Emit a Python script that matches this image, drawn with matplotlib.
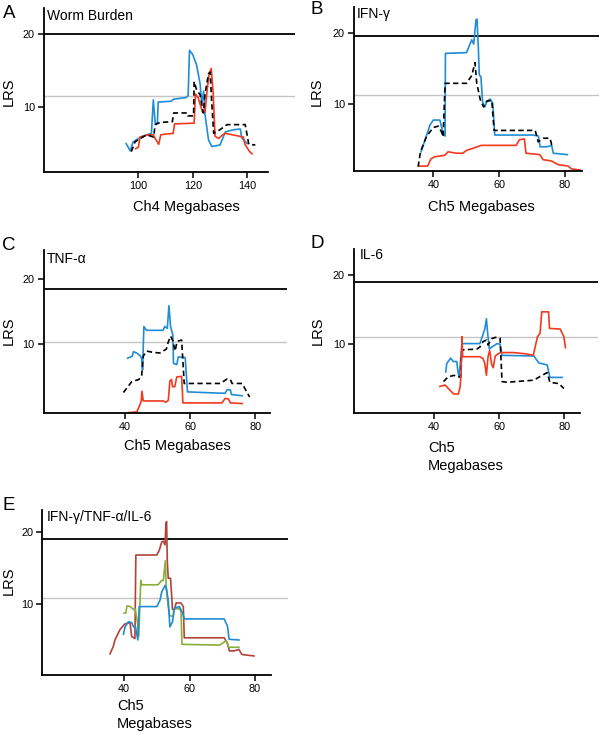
import matplotlib
matplotlib.use("Agg")
import matplotlib.pyplot as plt

plt.rcParams['font.family'] = ['Liberation Sans', 'DejaVu Sans']

# ---------------- data ----------------
# Panel A: Worm Burden, Ch4
a_blue_x = [95.5, 97, 98, 100, 103, 104.8, 105.5, 106.2, 107, 107.3, 112, 113, 117.5, 118.3, 118.8, 120, 121.4, 122.7, 123.3, 124, 124.5, 125.8, 127, 130, 132, 135, 137.5, 138, 140]
a_blue_y = [5.0, 4.0, 5.2, 5.7, 6.2, 6.4, 11.0, 7.8, 7.8, 10.7, 10.8, 11.1, 11.3, 11.6, 17.8, 17.2, 15.8, 13.2, 10.5, 12.2, 9.0, 5.5, 4.6, 4.8, 6.6, 6.9, 7.0, 5.8, 5.0]
a_black_x = [97.4, 98.8, 103, 105.6, 106.2, 108, 112.5, 113, 118, 118.2, 120.3, 120.5, 121.4, 122.7, 123.9, 124.5, 125.8, 126.4, 127.0, 127.7, 130, 132.6, 139.3, 140.6, 143]
a_black_y = [3.9, 5.25, 6.2, 5.9, 7.6, 7.9, 8.0, 9.2, 9.2, 8.8, 8.8, 13.5, 12.4, 11.7, 9.2, 11.8, 14.6, 14.8, 10.5, 6.4, 6.9, 7.6, 7.6, 4.9, 4.8]
a_red_x = [99, 100, 100.6, 103.5, 105.5, 106.5, 107.5, 108.2, 110, 112.8, 113.3, 120.5, 121, 122, 123.5, 124.5, 125.2, 126, 126.8, 127.5, 128.2, 129.5, 131, 132, 138.6, 139.2, 140.9, 141.8]
a_red_y = [4.3, 4.5, 5.9, 6.2, 6.2, 5.5, 4.9, 6.2, 6.3, 6.4, 7.7, 7.8, 11.8, 11.3, 9.4, 9.3, 12.0, 14.5, 15.3, 12.0, 6.0, 5.7, 6.2, 6.4, 5.9, 4.9, 3.9, 3.6]

# Panel B: IFN-gamma, Ch5
b_blue_x = [36.3, 37.5, 39, 40, 42, 42.9, 43.6, 43.7, 50.1, 51.7, 52.3, 53, 53.3, 53.7, 54, 54.5, 55, 55.7, 56.3, 57.3, 58.1, 58.7, 70.4, 72, 72.5, 74.5, 76, 76.5, 80.8]
b_blue_y = [3.3, 4.95, 7.05, 7.75, 7.75, 6.1, 5.5, 17.1, 17.2, 19.0, 18.4, 21.8, 21.9, 18.0, 14.1, 13.8, 10.3, 9.6, 10.4, 10.7, 10.1, 5.65, 5.65, 5.5, 4.0, 4.0, 4.2, 3.1, 2.9]
b_black_x = [35.4, 36.1, 38, 40, 41.5, 42.5, 43, 43.6, 50.1, 51.7, 52.7, 53.2, 54.3, 55.3, 56.3, 57.8, 58.5, 71, 71.9, 73.4, 75.5, 76, 76.6]
b_black_y = [1.2, 3.3, 5.5, 6.7, 6.9, 6.1, 5.4, 12.9, 12.9, 14.0, 15.8, 13.0, 10.6, 9.6, 10.4, 10.5, 6.3, 6.3, 4.7, 5.2, 5.2, 4.3, 4.1]
b_red_x = [35.9, 38.3, 39.3, 40.4, 43.5, 44.5, 47, 49, 50.1, 52.1, 54.6, 65.2, 66.2, 67.7, 68.2, 72.4, 73.4, 76, 78, 81, 82, 84.6]
b_red_y = [1.3, 1.3, 2.3, 2.6, 2.8, 3.3, 3.1, 3.1, 3.5, 3.8, 4.2, 4.2, 5.0, 5.1, 3.1, 2.9, 2.2, 2.0, 1.5, 1.3, 0.9, 0.75]

# Panel C: TNF-alpha, Ch5
c_blue_x = [40.8, 42.2, 42.6, 43.6, 44.6, 45.1, 45.4, 45.8, 46.6, 51.7, 52.2, 53.0, 53.5, 54, 54.7, 54.9, 55.9, 56.4, 58.5, 59.2, 69.3, 70.8, 71.4, 72.4, 72.7, 76]
c_blue_y = [7.8, 8.1, 8.8, 8.6, 8.2, 7.8, 6.0, 12.7, 12.1, 12.1, 12.7, 12.4, 15.9, 12.7, 11.4, 7.0, 6.8, 8.0, 7.9, 2.6, 2.4, 2.4, 2.95, 2.9, 2.2, 2.0]
c_black_x = [39.5, 42.1, 44.2, 45.1, 45.6, 46.6, 48.6, 50.7, 52.7, 53.3, 54, 54.7, 55.4, 56, 57.4, 58.2, 69.3, 71.4, 72.4, 72.9, 76, 78.3]
c_black_y = [2.5, 4.2, 4.5, 5.0, 8.1, 8.9, 8.7, 8.6, 9.2, 10.3, 11.2, 10.5, 8.9, 10.4, 10.6, 3.9, 3.9, 4.6, 4.5, 3.9, 3.9, 1.8]
c_red_x = [41, 43.6, 44.5, 45.0, 45.2, 45.6, 51.7, 52.6, 53.3, 53.8, 54.3, 54.6, 55.3, 55.9, 57.4, 57.8, 69.8, 70.8, 71.8, 72.4, 76]
c_red_y = [-0.6, -0.5, 0.5, 1.2, 2.7, 1.2, 1.2, 1.0, 1.3, 4.3, 4.5, 3.4, 3.4, 4.9, 5.0, 0.9, 0.9, 1.6, 1.5, 0.9, 0.8]

# Panel D: IL-6, Ch5
d_blue_x = [43.6, 43.9, 45.1, 45.9, 47, 47.3, 47.7, 48.6, 54.1, 54.6, 55.1, 55.6, 56.1, 56.5, 57, 57.7, 58.8, 59.3, 60.3, 60.9, 70.7, 72.2, 74.8, 75.6, 79.4]
d_blue_y = [6.0, 7.2, 8.0, 7.5, 7.5, 6.2, 5.2, 10.1, 10.1, 10.8, 11.5, 12.2, 13.7, 11.5, 9.3, 9.6, 9.9, 10.1, 10.0, 8.4, 8.3, 7.3, 7.0, 5.2, 5.2]
d_black_x = [42.9, 44.4, 46.2, 47, 48.2, 48.5, 49, 53.1, 54.1, 55.1, 56.1, 56.6, 57.7, 58.8, 60.3, 60.9, 62.4, 70.7, 72.8, 74.8, 75.6, 78.4, 79.9]
d_black_y = [4.6, 5.3, 5.5, 5.3, 5.3, 9.0, 9.2, 9.3, 9.6, 10.4, 10.6, 9.9, 10.8, 11.0, 10.9, 4.6, 4.5, 4.8, 5.4, 5.9, 4.5, 4.3, 3.6]
d_red_x = [41.8, 43.4, 44.4, 46, 47.5, 48, 48.3, 48.6, 48.8, 54.1, 55.1, 55.6, 56.1, 56.6, 57.1, 57.7, 58.2, 58.8, 60.3, 64.4, 68.5, 70.5, 71.8, 72.6, 73.1, 75.2, 75.5, 78.8, 79.9, 80.4]
d_red_y = [3.9, 4.1, 3.6, 2.8, 2.8, 3.8, 5.5, 11.1, 8.2, 8.2, 7.9, 7.2, 5.5, 8.2, 9.1, 7.1, 6.6, 8.3, 8.8, 8.8, 8.6, 8.4, 11.1, 11.6, 14.7, 14.7, 12.3, 12.2, 11.1, 9.5]

# Panel E: IFN-gamma/TNF-alpha/IL-6, Ch5
e_dred_x = [35.7, 36.7, 37.2, 38.7, 40.2, 41.8, 42.3, 43.3, 43.6, 50, 50.8, 51.5, 52, 52.5, 52.8, 53, 53.2, 53.5, 54.2, 54.8, 55.4, 55.9, 57.4, 58.1, 58.4, 70.6, 71.6, 72.2, 73.7, 75.1, 76, 79.7]
e_dred_y = [3.2, 4.2, 5.1, 6.5, 7.3, 7.5, 5.6, 5.3, 16.8, 16.8, 17.5, 18.6, 18.7, 18.2, 21.2, 21.4, 16.0, 13.6, 13.6, 9.3, 9.3, 10.2, 10.2, 9.7, 5.4, 5.4, 4.6, 3.6, 3.6, 3.8, 3.1, 2.9]
e_green_x = [40, 40.5, 40.9, 41.9, 42.9, 43.4, 44.1, 44.5, 45.1, 45.4, 50.4, 51.5, 52.0, 52.6, 52.9, 53.4, 53.9, 54.9, 55.4, 56.9, 57.4, 57.7, 69.2, 71.2, 72, 75.1]
e_green_y = [8.8, 8.8, 9.8, 9.7, 9.3, 9.4, 7.5, 5.6, 13.3, 12.7, 12.7, 13.3, 13.3, 16.0, 12.4, 10.0, 8.5, 8.3, 9.4, 9.4, 9.0, 4.5, 4.4, 5.0, 4.1, 4.1]
e_blue_x = [39.8, 40.3, 41.3, 42.3, 42.9, 43.5, 44.2, 44.6, 50, 51, 51.5, 52.5, 53, 53.5, 54, 54.8, 55.4, 56.9, 57.9, 58.4, 70.6, 71.6, 72.1, 75.1]
e_blue_y = [5.9, 6.9, 7.6, 7.5, 6.9, 6.9, 5.1, 9.7, 9.7, 10.6, 11.7, 12.6, 12.0, 10.5, 6.9, 7.6, 9.5, 9.7, 8.8, 8.0, 8.0, 7.0, 5.2, 5.1]

# thresholds (significant, suggestive)
thresholds = {'A': (20.05, 11.5), 'B': (19.5, 11.2), 'C': (18.5, 10.35), 'D': (19.05, 11.1), 'E': (19.0, 10.85)}
xticks_A = [100, 120, 140]
xticks_Ch5 = [40, 60, 80]
yticks = [10, 20]

BLUE = '#1f8dd6'
RED = '#f2391e'
DRED = '#b2433a'
GREEN = '#8aae3a'

W, H = 600, 734
fig = plt.figure(figsize=(6.0, 7.34), dpi=100)


def px_axes(left, top, right, bottom):
    return fig.add_axes([left / W, 1 - bottom / H, (right - left) / W, (bottom - top) / H])


def ftext(x, y, s, **kw):
    fig.text(x / W, 1 - y / H, s, **kw)


def style(ax, xlim, ylim, xend, xticks, thr):
    ax.set_xlim(*xlim)
    ax.set_ylim(*ylim)
    for s in ('top', 'right'):
        ax.spines[s].set_visible(False)
    for s in ('left', 'bottom'):
        ax.spines[s].set_linewidth(1.3)
    ax.spines['bottom'].set_bounds(xlim[0], xend)
    ax.set_xticks(xticks)
    ax.set_yticks(yticks)
    ax.tick_params(axis='y', length=4.5, width=1.1, pad=2, labelsize=7.8)
    ax.tick_params(axis='x', length=4, width=1.1, pad=2.5, labelsize=7.8)
    ax.axhline(thr[0], color='black', lw=1.3, zorder=1)
    ax.axhline(thr[1], color='#c4c4c4', lw=1.0, zorder=1)
    ax.patch.set_alpha(0)


LW = 1.2
DASH = (3.2, 2.0)

# Panel A
axA = px_axes(44, 8, 295, 172)
style(axA, (65.3, 157.6), (1.1, 23.6), 147.7, xticks_A, thresholds['A'])
axA.plot(a_blue_x, a_blue_y, color=BLUE, lw=LW)
axA.plot(a_red_x, a_red_y, color=RED, lw=LW)
axA.plot(a_black_x, a_black_y, color='black', lw=LW, dashes=DASH)

# Panel B
axB = px_axes(354, 7, 599, 170.7)
style(axB, (15.9, 90.4), (0.65, 23.6), 85.1, xticks_Ch5, thresholds['B'])
axB.plot(b_red_x, b_red_y, color=RED, lw=LW)
axB.plot(b_blue_x, b_blue_y, color=BLUE, lw=LW)
axB.plot(b_black_x, b_black_y, color='black', lw=LW, dashes=DASH)

# Panel C
axC = px_axes(43.7, 250, 287, 413)
style(axC, (15.0, 89.8), (-0.66, 24.5), 84.5, xticks_Ch5, thresholds['C'])
axC.plot(c_red_x, c_red_y, color=RED, lw=LW)
axC.plot(c_blue_x, c_blue_y, color=BLUE, lw=LW)
axC.plot(c_black_x, c_black_y, color='black', lw=LW, dashes=DASH)

# Panel D
axD = px_axes(354, 249, 598, 412.7)
style(axD, (15.4, 90.4), (0.09, 23.8), 84.9, xticks_Ch5, thresholds['D'])
axD.plot(d_blue_x, d_blue_y, color=BLUE, lw=LW)
axD.plot(d_black_x, d_black_y, color='black', lw=LW, dashes=DASH)
axD.plot(d_red_x, d_red_y, color=RED, lw=LW)

# Panel E
axE = px_axes(42.3, 510, 288, 674.7)
style(axE, (15.0, 90.1), (0.32, 23.0), 85.0, xticks_Ch5, thresholds['E'])
axE.plot(e_dred_x, e_dred_y, color=DRED, lw=LW)
axE.plot(e_green_x, e_green_y, color=GREEN, lw=LW)
axE.plot(e_blue_x, e_blue_y, color=BLUE, lw=LW)

# Panel letters
for letter, (x, y) in {'A': (9, 13), 'B': (317, 10), 'C': (9, 245), 'D': (317, 244), 'E': (9, 505)}.items():
    ftext(x, y, letter, fontsize=13.5, ha='center', va='center')

# Titles
TFS = 10
ftext(47, 15.5, 'Worm Burden', fontsize=TFS, ha='left', va='center')
ftext(357, 14, 'IFN-γ', fontsize=TFS, ha='left', va='center')
ftext(47, 259, 'TNF-α', fontsize=TFS, ha='left', va='center')
ftext(360, 255, 'IL-6', fontsize=TFS, ha='left', va='center')
ftext(47, 516.5, 'IFN-γ/TNF-α/IL-6', fontsize=TFS, ha='left', va='center')

# y labels
LFS = 10.5
for x, y in [(8.5, 92), (317, 92), (8.5, 331), (318, 331), (8.5, 581)]:
    ftext(x, y, 'LRS', fontsize=LFS, rotation=90, ha='center', va='center')

# x labels
ftext(186, 207, 'Ch4 Megabases', fontsize=LFS, ha='center', va='center')
ftext(481, 207, 'Ch5 Megabases', fontsize=LFS, ha='center', va='center')
ftext(177, 446, 'Ch5 Megabases', fontsize=LFS, ha='center', va='center')
ftext(428, 441, 'Ch5', fontsize=LFS, ha='left', va='top')
ftext(428, 459, 'Megabases', fontsize=LFS, ha='left', va='top')
ftext(117, 699, 'Ch5', fontsize=LFS, ha='left', va='top')
ftext(117, 717, 'Megabases', fontsize=LFS, ha='left', va='top')

fig.savefig('out.png', dpi=100)
